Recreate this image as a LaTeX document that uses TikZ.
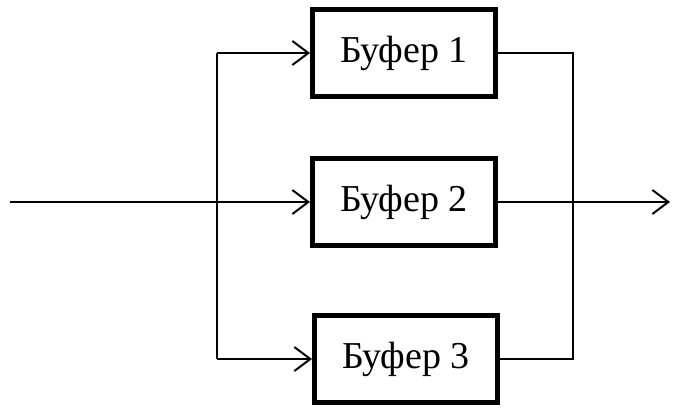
\documentclass[tikz,border=0pt]{standalone}
\usepackage{fontspec}
\setmainfont{Liberation Serif}
\usetikzlibrary{arrows.meta}
\begin{document}
\begin{tikzpicture}[x=1pt,y=-1pt,
  buf/.style={draw, line width=5pt, minimum width=183pt, minimum height=87pt, inner sep=0pt,
    font=\fontsize{38}{42}\selectfont},
  conn/.style={line width=2pt},
  arr/.style={conn, -{Straight Barb[length=16pt,width=24pt]}}]
\useasboundingbox (0,0) rectangle (676,410);
\node[buf] (b1) at (404,53) {Буфер 1};
\node[buf] (b2) at (404,202) {Буфер 2};
\node[buf] (b3) at (406,359) {Буфер 3};
\coordinate (in) at (10,202);
\coordinate (out) at (670,202);
\coordinate (lt) at (217,53);
\coordinate (lb) at (217,359);
\coordinate (rt) at (573,53);
\coordinate (rb) at (573,359);
\draw[arr] (in) -- (b2.west);
\draw[conn] (lt) -- (lb);
\draw[arr] (lt) -- (b1.west);
\draw[arr] (lb) -- (b3.west);
\draw[conn] (b1.east) -- (rt) -- (rb) -- (b3.east);
\draw[arr] (b2.east) -- (out);
\end{tikzpicture}
\end{document}
